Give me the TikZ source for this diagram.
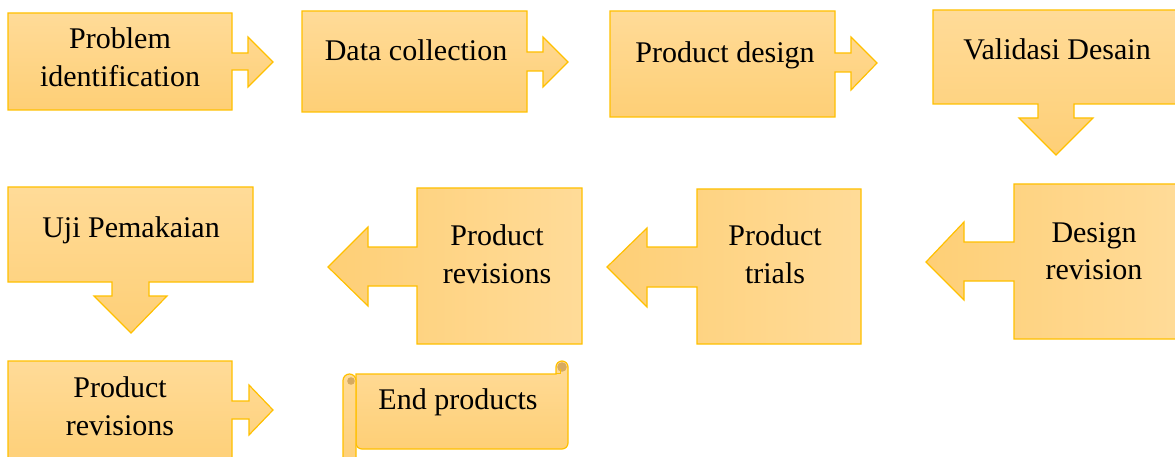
\documentclass[tikz,border=0pt]{standalone}
\usepackage{fontspec}
\setmainfont{Liberation Serif}
\definecolor{boxline}{RGB}{255,192,0}
\definecolor{boxlight}{RGB}{255,219,152}
\definecolor{boxdark}{RGB}{254,207,118}
\definecolor{curl}{RGB}{214,170,96}
\begin{document}
\begin{tikzpicture}[x=1pt,y=-1pt,
	shapev/.style={draw=boxline, line width=1.2pt, line join=miter, top color=boxlight, bottom color=boxdark},
	shapeh/.style={draw=boxline, line width=1.2pt, line join=miter, left color=boxdark, right color=boxlight},
	label/.style={font=\fontsize{30}{37.5}\selectfont, align=center, inner sep=0pt, anchor=base}]
	\useasboundingbox (0,0) rectangle (1175,457);
	\clip (0,0) rectangle (1175,457);
	% first row
	\draw[shapev] (8,13)--(232,13)--(232,53)--(248,53)--(248,37)--(273,62)--(248,87)--(248,70)--(232,70)--(232,110)--(8,110)--cycle;
	\draw[shapev] (302,11)--(527,11)--(527,52)--(543,52)--(543,37)--(568,62)--(543,87)--(543,71)--(527,71)--(527,112)--(302,112)--cycle;
	\draw[shapev] (610,11)--(835,11)--(835,53)--(851,53)--(851,37)--(877,63)--(851,90)--(851,72)--(835,72)--(835,117)--(610,117)--cycle;
	\draw[shapev] (933,10)--(1179,10)--(1179,104)--(1074,104)--(1074,118)--(1093,118)--(1056,155)--(1019,118)--(1038,118)--(1038,104)--(933,104)--cycle;
	\node[label] (probid) at (120,86.5) {Problem\\identification};
	\node[label] (datacol) at (416,61) {Data collection};
	\node[label] (proddes) at (725,63) {Product design};
	\node[label] (valdes) at (1057,60) {Validasi Desain};
	% second row
	\draw[shapeh] (1014,184)--(1177,184)--(1177,339)--(1014,339)--(1014,281)--(964,281)--(964,300)--(926,262)--(964,222)--(964,242)--(1014,242)--cycle;
	\draw[shapeh] (697,189)--(861,189)--(861,344)--(697,344)--(697,287)--(647,287)--(647,307)--(607,267)--(647,228)--(647,247)--(697,247)--cycle;
	\draw[shapeh] (417,188)--(582,188)--(582,344)--(417,344)--(417,286)--(368,286)--(368,306)--(328,267)--(368,227)--(368,247)--(417,247)--cycle;
	\draw[shapev] (8,187)--(253,187)--(253,282)--(149,282)--(149,296)--(167,296)--(131,333)--(94,296)--(112,296)--(112,282)--(8,282)--cycle;
	\node[label] (desrev) at (1094,279.5) {Design\\revision};
	\node[label] (prodtri) at (775,283) {Product\\trials};
	\node[label] (prodrev) at (497,283) {Product\\revisions};
	\node[label] (ujipem) at (131,237) {Uji Pemakaian};
	% last row
	\draw[shapev] (8,361)--(232,361)--(232,401)--(249,401)--(249,385)--(273,410)--(249,435)--(249,419)--(232,419)--(232,470)--(8,470)--cycle;
	\node[label] (prodrevb) at (120,435) {Product\\revisions};
	\draw[shapev] (356,374)--(556,374)--(556,367) arc[start angle=180,end angle=360,radius=6] [rounded corners=6pt]--(568,449)--(356,449) [sharp corners]--cycle;
	\fill[curl] (562,367) circle (4.8);
	\draw[boxline, line width=1pt] (556,373)--(560,373)--(560,369);
	\draw[shapev] (343,470)--(343,380.5) arc[start angle=180,end angle=360,radius=6.5]--(356,470);
	\fill[curl] (351,381) circle (3.8);
	\node[label] (endprod) at (458,409) {End products};
\end{tikzpicture}
\end{document}
